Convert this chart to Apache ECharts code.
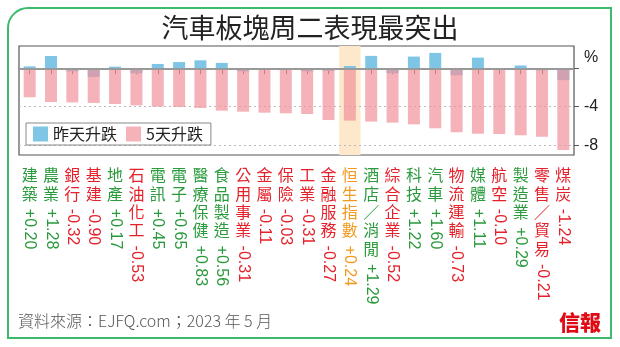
<!DOCTYPE html>
<html>
<head>
<meta charset="utf-8">
<script src="https://cdn.jsdelivr.net/npm/echarts@6/dist/echarts.min.js"></script>
<style>html,body{margin:0;padding:0;background:#fff;}#c{width:620px;height:347px;}</style>
</head>
<body>
<div id="c"></div>
<script>
var categories = ['建築','農業','銀行','基建','地產','石油化工','電訊','電子','醫療保健','食品製造','公用事業','金屬','保險','工業','金融服務','恒生指數','酒店／消閒','綜合企業','科技','汽車','物流運輸','媒體','航空','製造業','零售／貿易','煤炭'];
var day1 = [0.20,1.28,-0.32,-0.90,0.17,-0.53,0.45,0.65,0.83,0.56,-0.31,-0.11,-0.03,-0.31,-0.27,0.24,1.29,-0.52,1.22,1.60,-0.73,1.11,-0.10,0.29,-0.21,-1.24];
var day5 = [-3.02,-3.51,-3.55,-3.61,-3.72,-3.86,-4.00,-4.03,-4.13,-4.41,-4.52,-4.62,-4.69,-4.76,-5.39,-5.45,-5.55,-5.66,-5.84,-6.25,-6.67,-6.81,-6.84,-6.98,-7.12,-8.51];
var yTicks = [0, -4, -8];
var seriesNames = ['昨天升跌', '5天升跌'];
var titleText = '汽車板塊周二表現最突出';
var sourceText = '資料來源：EJFQ.com；2023 年 5 月';
var logoText = '信報';
var highlightName = '恒生指數';

var Y_MIN = -9.03, Y_MAX = 2.32;
var GREEN = '#2A9A3C', RED = '#E5222B', ORANGE = '#F39A1E';
var CJK = "'Noto Sans CJK TC','Noto Sans CJK SC',sans-serif";
var LAT = "'Liberation Sans','Noto Sans CJK TC',sans-serif";

function colorOf(name) {
  var i = categories.indexOf(name);
  if (name === highlightName) return ORANGE;
  return day1[i] >= 0 ? GREEN : RED;
}
function fmt(v) { return (v >= 0 ? '+' : '') + v.toFixed(2); }

var rich = {};
[2,3,4,5].forEach(function (n) {
  [['g', GREEN], ['r', RED], ['o', ORANGE]].forEach(function (c) {
    rich[c[0] + n] = { color: c[1], fontSize: 16, fontFamily: LAT, padding: [0, 0, 0, 6 + n * 18.4] };
  });
});

var chart = echarts.init(document.getElementById('c'), null, { renderer: 'canvas' });
var hiData = categories.map(function (c) { return c === highlightName ? Y_MAX : '-'; });
var loData = categories.map(function (c) { return c === highlightName ? Y_MIN : '-'; });

chart.setOption({
  animation: false,
  backgroundColor: '#fff',
  title: {
    text: titleText, left: 'center', top: 9,
    textStyle: { fontSize: 27, fontWeight: 'normal', color: '#222', fontFamily: CJK }
  },
  legend: {
    data: seriesNames, left: 26, top: 123, orient: 'horizontal',
    itemWidth: 15, itemHeight: 15, itemGap: 9, icon: 'rect',
    borderColor: '#888', borderWidth: 1, padding: [3, 8, 3, 7],
    textStyle: { fontSize: 16, color: '#222', fontFamily: CJK }
  },
  grid: { left: 19, top: 46, width: 555, height: 109, show: true, borderColor: '#555', borderWidth: 1.2 },
  xAxis: [
    {
      type: 'category', data: categories, position: 'bottom',
      axisLine: { show: true, lineStyle: { color: '#555', width: 1.2 } },
      axisTick: { show: true, alignWithLabel: true, length: 6, lineStyle: { color: '#555' } },
      axisLabel: {
        interval: 0, margin: 11, fontSize: 16, lineHeight: 18.4, fontFamily: CJK,
        formatter: function (v) { return v.split('').join('\n'); },
        color: function (v) { return colorOf(v); }
      },
      splitLine: { show: false }
    },
    {
      type: 'category', data: categories, position: 'bottom',
      axisLine: { show: false }, axisTick: { show: false }, splitLine: { show: false },
      axisLabel: {
        interval: 0, margin: 11, rotate: -90, fontSize: 16, fontFamily: LAT,
        formatter: function (v, i) {
          var idx = categories.indexOf(v);
          var key = (v === highlightName ? 'o' : (day1[idx] >= 0 ? 'g' : 'r')) + v.length;
          return '{' + key + '|' + fmt(day1[idx]) + '}';
        },
        rich: rich
      }
    },
    { type: 'category', data: categories, position: 'bottom', show: false }
  ],
  yAxis: {
    type: 'value', position: 'right', min: Y_MIN, max: Y_MAX,
    splitLine: { show: false },
    axisLine: { show: false },
    axisTick: { show: true, customValues: yTicks, length: 5, lineStyle: { color: '#555' } },
    axisLabel: {
      customValues: yTicks, margin: 10, fontSize: 16, color: '#222', fontFamily: LAT,
      formatter: function (v) { return v === 0 ? '{p|%}' : String(v); },
      rich: { p: { fontSize: 16, color: '#222', fontFamily: LAT, padding: [0, 0, 22, 0] } }
    }
  },
  series: [
    {
      type: 'bar', xAxisIndex: 2, data: hiData, barWidth: '100%', barGap: '-100%', z: 1, silent: true,
      itemStyle: { color: '#FDE8CB' },
      markLine: {
        silent: true, symbol: 'none', z: 1.5, label: { show: false },
        lineStyle: { color: '#BBB', type: [2, 3], width: 1 },
        data: yTicks.filter(function (t) { return t !== 0; }).map(function (t) { return { yAxis: t }; })
      }
    },
    {
      type: 'bar', xAxisIndex: 2, data: loData, barWidth: '100%', barGap: '-100%', z: 1, silent: true,
      itemStyle: { color: '#FDE8CB' },
      markLine: {
        silent: true, symbol: 'none', z: 5, label: { show: false },
        lineStyle: { color: '#999', type: 'solid', width: 2 },
        data: [{ yAxis: 0 }]
      }
    },
    {
      name: seriesNames[0], type: 'bar', xAxisIndex: 0, data: day1, barWidth: 12, barGap: '-100%', z: 2,
      itemStyle: { color: '#7FC6E6' }
    },
    {
      name: seriesNames[1], type: 'bar', xAxisIndex: 0, data: day5, barWidth: 12, barGap: '-100%', z: 2,
      itemStyle: { color: 'rgba(241,146,154,0.7)' }
    }
  ],
  graphic: [
    { type: 'rect', shape: { x: 8, y: 8, width: 603, height: 330, r: [20, 0, 0, 0] },
      style: { fill: 'none', stroke: '#3DBB6C', lineWidth: 2 }, silent: true, z: 100 },
    { type: 'text', left: 18, top: 313,
      style: { text: sourceText, fontSize: 16, fill: '#555', fontFamily: CJK, fontWeight: 300 } },
    { type: 'text', left: 559, top: 312,
      style: { text: logoText, fontSize: 21, fill: '#E00A14', fontFamily: CJK, fontWeight: 900 } }
  ]
});
</script>
</body>
</html>
